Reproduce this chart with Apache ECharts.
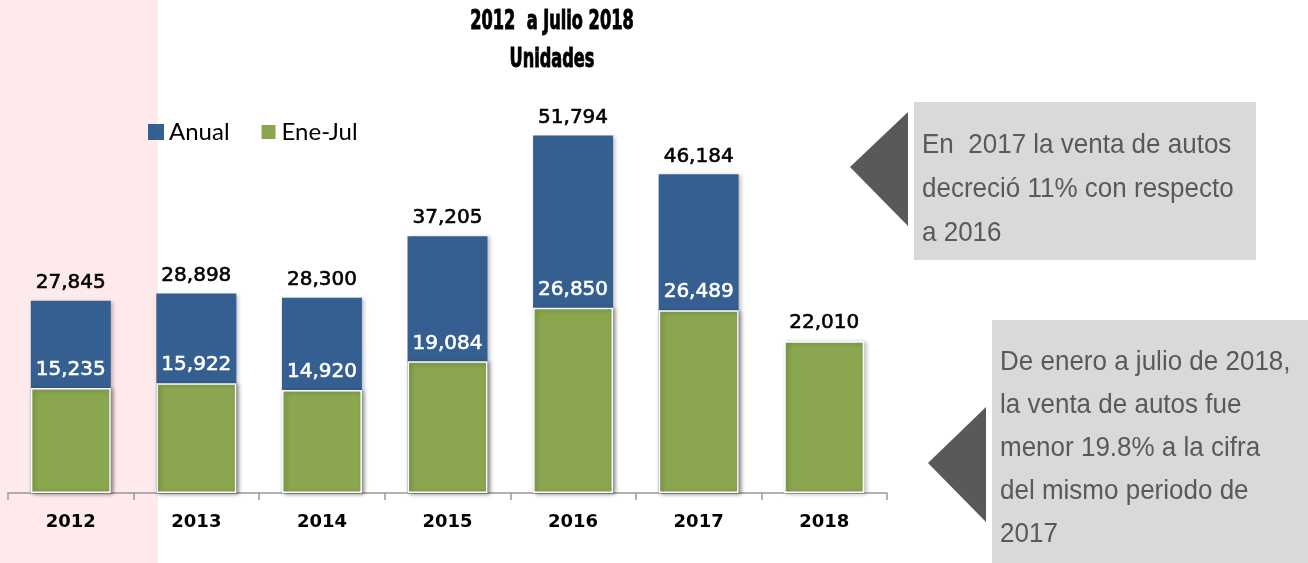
<!DOCTYPE html>
<html>
<head>
<meta charset="utf-8">
<script src="https://cdn.jsdelivr.net/npm/echarts@6/dist/echarts.min.js"></script>
<style>
  html, body { margin: 0; padding: 0; background: #fff; }
  #main { width: 1308px; height: 563px; }
</style>
</head>
<body>
<div id="main"></div>
<script>
// datos
const years = ['2012', '2013', '2014', '2015', '2016', '2017', '2018'];
const anual = [27845, 28898, 28300, 37205, 51794, 46184, null];
const eneJul = [15235, 15922, 14920, 19084, 26850, 26489, 22010];
const seriesNames = ['Anual', 'Ene-Jul'];

const titleLines = ['2012  a Julio 2018', 'Unidades'];
const note1 = ['En  2017 la venta de autos', 'decreció 11% con respecto', 'a 2016'];
const note2 = ['De enero a julio de 2018,', 'la venta de autos fue', 'menor 19.8% a la cifra', 'del mismo periodo de', '2017'];

const BLUE = '#365f91';
const GREEN = '#8aa64f';
const NOTE_TXT = '#595959';
const NUM_FONT = '"DejaVu Sans", Verdana, sans-serif';

const chart = echarts.init(document.getElementById('main'));

// ultimo año solo tiene Ene-Jul, su etiqueta va en negro
const greenData = eneJul.map((v, i) => {
    const c = anual[i] == null ? '#000' : '#fff';
    return { value: v, label: { color: c, textBorderColor: c } };
});

function noteTexts(lines, x, y0, step) {
    return lines.map((t, i) => ({
        type: 'text',
        x: x, y: y0 + i * step,
        scaleY: 1.08,
        style: {
            text: t, fill: NOTE_TXT,
            font: '26px "Liberation Sans", Arial, sans-serif',
            textVerticalAlign: 'middle'
        }
    }));
}

function titleText(t, y) {
    return {
        type: 'text', x: 552, y: y, scaleY: 1.45,
        style: {
            text: t, fill: '#000', textAlign: 'center', textVerticalAlign: 'middle',
            font: 'bold 18px "DejaVu Sans Condensed", sans-serif',
            stroke: '#000', lineWidth: 0.6,
            shadowColor: 'rgba(0,0,0,0.45)', shadowBlur: 2, shadowOffsetX: 1, shadowOffsetY: 1
        }
    };
}

const graphics = [
    // franja rosa de 2012
    { type: 'rect', z: -10, shape: { x: 0, y: 0, width: 158, height: 563 }, style: { fill: '#fee9eb' } },
    titleText(titleLines[0], 22),
    titleText(titleLines[1], 60),
    // nota 1
    { type: 'rect', shape: { x: 914, y: 102, width: 342, height: 158 }, style: { fill: '#d9d9d9' } },
    { type: 'polygon', shape: { points: [[850, 167], [908, 112], [908, 226]] }, style: { fill: NOTE_TXT } },
    // nota 2
    { type: 'rect', shape: { x: 992, y: 320, width: 316, height: 243 }, style: { fill: '#d9d9d9' } },
    { type: 'polygon', shape: { points: [[928, 463], [986, 407], [986, 522]] }, style: { fill: NOTE_TXT } }
]
    .concat(noteTexts(note1, 922, 145, 44))
    .concat(noteTexts(note2, 1000, 362, 43));

const option = {
    animation: false,
    backgroundColor: '#fff',
    grid: { left: 8, right: 421, top: 79, bottom: 70 },
    legend: {
        data: seriesNames,
        left: 143, top: 115,
        icon: 'rect',
        itemWidth: 16, itemHeight: 16, itemGap: 30,
        textStyle: { fontFamily: 'Lato, sans-serif', fontSize: 24, color: '#000' }
    },
    xAxis: {
        type: 'category',
        data: years,
        axisLine: { lineStyle: { color: '#999', width: 1.5 } },
        axisTick: { show: true, length: 7, lineStyle: { color: '#999', width: 1.5 } },
        axisLabel: {
            margin: 20, color: '#000', fontSize: 18, fontWeight: 'bold',
            fontFamily: NUM_FONT
        }
    },
    yAxis: {
        type: 'value', min: 0, max: 60000, show: false,
        splitLine: { show: false }
    },
    series: [
        {
            name: seriesNames[0],
            type: 'bar',
            data: anual,
            barWidth: 80,
            barGap: '-100%',
            itemStyle: {
                color: BLUE,
                shadowColor: 'rgba(0,0,0,0.25)', shadowBlur: 4, shadowOffsetX: 2, shadowOffsetY: 1
            },
            label: {
                show: true, position: 'top', distance: 8,
                color: '#000', fontSize: 20, fontFamily: NUM_FONT,
                textBorderColor: '#000', textBorderWidth: 0.6,
                formatter: p => p.value.toLocaleString('en-US')
            }
        },
        {
            name: seriesNames[1],
            type: 'bar',
            data: greenData,
            barWidth: 80,
            itemStyle: {
                color: GREEN, borderColor: '#fff', borderWidth: 1.5,
                shadowColor: 'rgba(0,0,0,0.3)', shadowBlur: 4, shadowOffsetX: 2, shadowOffsetY: 1
            },
            label: {
                show: true, position: 'top', distance: 8,
                fontSize: 20, fontFamily: NUM_FONT, textBorderWidth: 0.6,
                formatter: p => p.value.toLocaleString('en-US')
            }
        }
    ],
    graphic: graphics
};

chart.setOption(option);
</script>
</body>
</html>
